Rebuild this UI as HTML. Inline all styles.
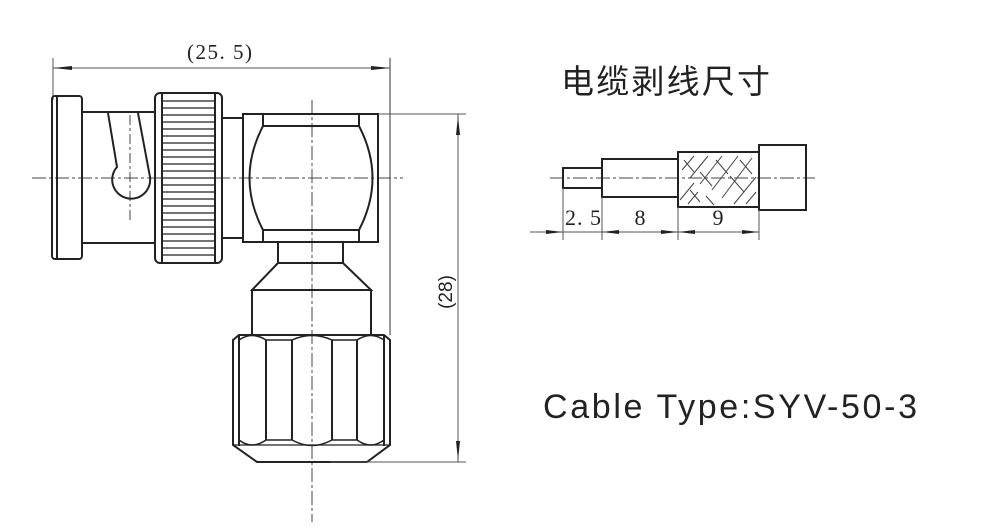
<!DOCTYPE html>
<html><head><meta charset="utf-8"><style>
html,body{margin:0;padding:0;background:#fff;}
svg{display:block;}
</style></head><body>
<svg width="1000" height="528" viewBox="0 0 1000 528" xmlns="http://www.w3.org/2000/svg">
<g fill="none" stroke="#222" stroke-width="2">
<line x1="53" y1="58" x2="53" y2="100" stroke-width="1" stroke="#555"/>
<line x1="390" y1="58" x2="390" y2="335" stroke-width="1.2" stroke="#555"/>
<line x1="53" y1="68" x2="390" y2="68" stroke-width="1" stroke="#555"/>
<polygon points="53,68 72,66 72,70" fill="#222" stroke="none"/>
<polygon points="390,68 371,66 371,70" fill="#222" stroke="none"/>
<line x1="32" y1="178" x2="403" y2="178" stroke-width="1" stroke="#444" stroke-dasharray="14,3,3,3"/>
<line x1="312" y1="100" x2="312" y2="522" stroke-width="1" stroke="#444" stroke-dasharray="14,3,3,3"/>
<line x1="130" y1="115" x2="130" y2="222" stroke-width="1" stroke="#444" stroke-dasharray="10,3,3,3"/>
<rect x="52" y="96" width="30" height="163" rx="3"/>
<line x1="57" y1="97" x2="57" y2="258"/>
<rect x="82" y="112" width="73" height="131"/>
<path d="M108,113 L117,167 A19,19 0 1 0 150,177 L138,113"/>
<rect x="155" y="93" width="67" height="170" rx="5"/>
<line x1="162" y1="94" x2="162" y2="262"/>
<line x1="215" y1="94" x2="215" y2="262"/>
<g stroke-width="1.2">
<line x1="162" y1="101" x2="215" y2="101"/><line x1="162" y1="108" x2="215" y2="108"/>
<line x1="162" y1="115" x2="215" y2="115"/><line x1="162" y1="122" x2="215" y2="122"/>
<line x1="162" y1="129" x2="215" y2="129"/><line x1="162" y1="136" x2="215" y2="136"/>
<line x1="162" y1="143" x2="215" y2="143"/><line x1="162" y1="150" x2="215" y2="150"/>
<line x1="162" y1="157" x2="215" y2="157"/><line x1="162" y1="164" x2="215" y2="164"/>
<line x1="162" y1="171" x2="215" y2="171"/><line x1="162" y1="178" x2="215" y2="178"/>
<line x1="162" y1="185" x2="215" y2="185"/><line x1="162" y1="192" x2="215" y2="192"/>
<line x1="162" y1="199" x2="215" y2="199"/><line x1="162" y1="206" x2="215" y2="206"/>
<line x1="162" y1="213" x2="215" y2="213"/><line x1="162" y1="220" x2="215" y2="220"/>
<line x1="162" y1="227" x2="215" y2="227"/><line x1="162" y1="234" x2="215" y2="234"/>
<line x1="162" y1="241" x2="215" y2="241"/><line x1="162" y1="248" x2="215" y2="248"/>
<line x1="162" y1="255" x2="215" y2="255"/>
</g>
<rect x="222" y="118" width="21" height="120"/>
<rect x="243" y="114" width="135" height="128"/>
<line x1="263" y1="114" x2="263" y2="126"/><line x1="359" y1="114" x2="359" y2="126"/>
<line x1="263" y1="126" x2="359" y2="126"/>
<line x1="263" y1="230" x2="359" y2="230"/>
<line x1="263" y1="230" x2="263" y2="242"/><line x1="359" y1="230" x2="359" y2="242"/>
<path d="M263,126 Q236,178 263,230"/>
<path d="M359,126 Q386,178 359,230"/>
<rect x="278" y="242" width="65" height="21"/>
<path d="M278,263 L252,290 L371,290 L343,263"/>
<rect x="252" y="290" width="119" height="45"/>
<path d="M239,335 L384,335 L390,340 L390,445 L367,462 L257,462 L233,445 L233,340 Z"/>
<line x1="239" y1="336" x2="239" y2="446"/>
<line x1="384" y1="336" x2="384" y2="446"/>
<line x1="266" y1="340" x2="266" y2="440"/>
<line x1="292" y1="340" x2="292" y2="440"/>
<line x1="332" y1="340" x2="332" y2="440"/>
<line x1="357" y1="340" x2="357" y2="440"/>
<path d="M239,340 Q252,331 266,340 L292,340 Q312,331 332,340 L357,340 Q371,331 384,340" stroke-width="1.5"/>
<path d="M239,440 Q252,450 266,440 L292,440 Q312,451 332,440 L357,440 Q371,450 384,440" stroke-width="1.5"/>
<line x1="233" y1="445" x2="390" y2="445" stroke-width="1.2"/>
<line x1="378" y1="114" x2="466" y2="114" stroke-width="1" stroke="#555"/>
<line x1="330" y1="462" x2="466" y2="462" stroke-width="1" stroke="#555"/>
<line x1="458" y1="114" x2="458" y2="462" stroke-width="1" stroke="#555"/>
<polygon points="458,116 456,135 460,135" fill="#222" stroke="none"/>
<polygon points="458,460 456,441 460,441" fill="#222" stroke="none"/>
<line x1="550" y1="178" x2="815" y2="178" stroke-width="1" stroke="#444" stroke-dasharray="14,3,3,3"/>
<rect x="563" y="168" width="39" height="20"/>
<rect x="602" y="159" width="76" height="38"/>
<rect x="678" y="152" width="81" height="55"/>
<rect x="759" y="145" width="47" height="65"/>
<g stroke-width="1" stroke="#444">
<path d="M682,170 l12,-14 M690,178 l18,-22 M700,184 l22,-28 M712,190 l26,-34 M722,198 l30,-40 M734,204 l22,-27 M746,204 l10,-12 M680,200 l14,-17 M688,204 l10,-12"/>
<path d="M684,160 l10,12 M700,172 l12,14 M716,160 l12,14 M730,176 l14,16 M690,190 l10,12 M740,160 l12,14 M706,196 l8,9"/>
</g>
<line x1="530" y1="232" x2="759" y2="232" stroke-width="1" stroke="#555"/>
<line x1="563" y1="188" x2="563" y2="240" stroke-width="1" stroke="#555"/>
<line x1="602" y1="197" x2="602" y2="240" stroke-width="1" stroke="#555"/>
<line x1="678" y1="207" x2="678" y2="240" stroke-width="1" stroke="#555"/>
<line x1="759" y1="210" x2="759" y2="240" stroke-width="1" stroke="#555"/>
<g fill="#222" stroke="none">
<polygon points="563,232 546,230 546,234"/>
<polygon points="602,232 619,230 619,234"/>
<polygon points="678,232 661,230 661,234"/>
<polygon points="678,232 695,230 695,234"/>
<polygon points="759,232 742,230 742,234"/>
</g>
</g>
<g fill="#222" font-family="'Liberation Serif', serif">
<text x="187" y="59" font-size="21" textLength="65" lengthAdjust="spacing">(25. 5)</text>
<text transform="translate(452,292) rotate(-90)" font-size="19" text-anchor="middle" font-family="'Liberation Sans', sans-serif">(28)</text>
<text x="565" y="225" font-size="22" textLength="36" lengthAdjust="spacing">2. 5</text>
<text x="640" y="225" font-size="22" text-anchor="middle">8</text>
<text x="718" y="225" font-size="22" text-anchor="middle">9</text>
</g>
<text x="561" y="93" font-size="33" fill="#222" font-family="'Liberation Sans','Noto Sans CJK SC',sans-serif" textLength="209">电缆剥线尺寸</text>
<text x="543" y="418" font-size="34" fill="#222" font-family="'Liberation Sans',sans-serif" textLength="374" lengthAdjust="spacing">Cable Type:SYV-50-3</text>
</svg>
</body></html>
